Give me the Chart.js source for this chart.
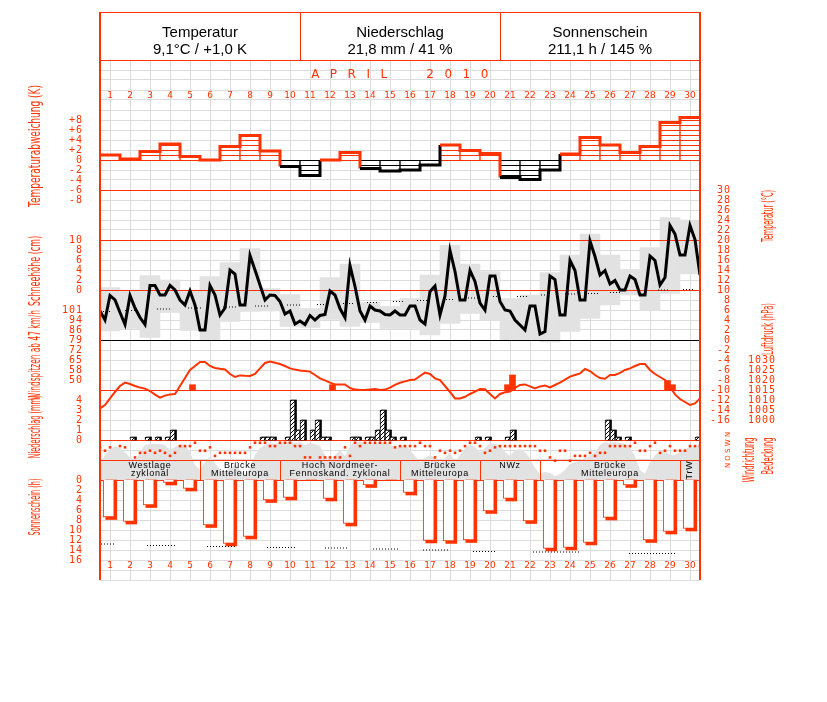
<!DOCTYPE html>
<html>
<head>
<meta charset="utf-8">
<script src="https://cdn.jsdelivr.net/npm/chart.js@4.4.1/dist/chart.umd.min.js"></script>
<style>
  body { margin: 0; background: #fff; }
  canvas { display: block; }
</style>
</head>
<body>
<canvas id="klima" width="827" height="702"></canvas>
<script>
const ROT = '#ff3300';
const GRAU = '#e2e2e2';

// --- Werte (April 2010) ---
const tage = Array.from({ length: 30 }, (_, i) => String(i + 1));

// Tagesabweichung der Temperatur (K)
const abweichung = [1.0, 0.2, 1.7, 3.2, 0.7, 0.0, 2.7, 4.9, 1.8, -1.3, -3.1, 0.0, 1.5, -1.7, -2.2,
  -2.0, -1.0, 3.0, 1.9, 1.3, -3.5, -3.9, -2.0, 1.2, 4.5, 3.0, 1.5, 2.7, 7.5, 8.5];

// Tagesspanne (graue Kästen, °C)
const tempMax = [10.5, 10.0, 12.9, 12.0, 10.0, 12.7, 15.5, 18.3, 10.3, 9.1, 6.3, 12.5, 15.2, 7.5, 6.7,
  8.3, 13.0, 19.0, 15.2, 13.7, 8.3, 9.0, 13.5, 17.0, 21.2, 17.0, 14.1, 18.5, 24.5, 24.0];
const tempMin = [1.8, 2.3, 0.5, 5.5, 1.9, 0.0, 3.7, 5.7, 5.8, 2.7, 2.5, 4.1, 2.7, 3.5, 2.3,
  2.3, 1.0, 3.3, 5.3, 4.0, 0.0, 0.0, -0.4, 1.7, 4.3, 7.0, 9.0, 5.9, 9.3, 13.2];

// Temperaturverlauf, 4 Werte pro Tag (°C)
const temperatur = [
  5.8, 4.0, 8.9, 8.0, 5.5, 3.1, 8.9, 6.4, 4.5, 3.1, 10.9, 10.9, 9.0, 9.0, 10.9,
  10.0, 8.0, 7.0, 9.8, 7.0, 2.0, 2.0, 10.9, 9.0, 5.0, 6.4, 14.0, 13.2, 7.0, 7.0,
  16.9, 14.0, 11.0, 8.0, 9.0, 8.9, 7.7, 5.2, 5.8, 3.2, 3.8, 3.1, 4.9, 4.0, 4.9,
  5.1, 9.8, 9.0, 6.3, 4.5, 14.9, 10.7, 5.8, 4.0, 6.8, 6.0, 5.8, 5.1, 5.0, 5.8,
  5.0, 5.0, 6.8, 6.8, 4.0, 3.2, 9.7, 10.8, 5.0, 8.8, 17.9, 13.7, 8.0, 8.0, 13.9,
  11.7, 7.4, 6.0, 12.8, 12.8, 7.7, 6.0, 5.8, 4.0, 3.0, 2.0, 6.8, 6.8, 1.2, 1.7,
  12.8, 12.1, 5.0, 5.0, 15.9, 13.9, 8.0, 8.0, 19.8, 16.7, 13.0, 13.9, 11.2, 11.9, 10.0,
  10.0, 12.8, 12.1, 9.0, 9.0, 16.8, 15.9, 11.0, 12.5, 22.9, 21.2, 17.0, 17.0, 22.9, 20.1,
  13.0];

// Klimamittel der Temperatur (gepunktete Striche)
const klimaTempVon = [0.15, 1.25, 2.85, 4.4, 6.15, 7.75, 9.35, 10.85, 12.15, 13.35, 14.65, 15.85, 17.15, 18.4, 19.65, 20.85, 22.05, 23.25, 24.4, 25.5, 27.9, 29.15];
const klimaTempBis = [0.6, 2.0, 3.6, 5.15, 6.9, 8.5, 10.0, 11.35, 12.65, 13.9, 15.15, 16.35, 17.65, 19.0, 19.95, 21.4, 22.35, 23.85, 25.0, 26.1, 28.5, 29.7];
const klimaTempWert = [5.7, 5.9, 6.2, 6.4, 6.6, 6.8, 7.0, 7.1, 7.3, 7.5, 7.7, 7.9, 8.1, 8.4, 8.7, 8.7, 9.0, 9.2, 9.3, 9.5, 10.0, 10.1];

// Luftdruck, 4 Werte pro Tag (hPa)
const luftdruck = [
  1005.8, 1007.5, 1010.8, 1014, 1017, 1018.7, 1018, 1017, 1016.2, 1015.7,
  1014.5, 1012.7, 1011.2, 1012.2, 1012.8, 1013, 1017, 1021, 1025, 1027,
  1029, 1029, 1027, 1026, 1025.6, 1025.3, 1023, 1021.5, 1022.3, 1022.1,
  1022, 1023, 1025.8, 1028.5, 1029.2, 1028.6, 1028, 1027, 1025.8, 1025.2,
  1024.7, 1024.5, 1024.2, 1022.5, 1020.8, 1019.8, 1018.7, 1017.8, 1017.8, 1017.8,
  1016, 1015.2, 1015, 1015, 1015.3, 1015.5, 1015, 1015.2, 1016.2, 1017.6,
  1018.6, 1019.3, 1020, 1020.2, 1022, 1023.7, 1023, 1020.8, 1020, 1017,
  1014, 1010.8, 1010.8, 1011.6, 1013, 1014.2, 1015.5, 1015.4, 1013, 1010.8,
  1013, 1013.9, 1014.2, 1016, 1017.5, 1017.8, 1016.8, 1015.8, 1016.8, 1017.2,
  1016.3, 1017.5, 1018.7, 1020.2, 1021.7, 1022.5, 1023.3, 1025.5, 1024.5, 1022.5,
  1021, 1020.6, 1022.5, 1022.5, 1023.6, 1025, 1025.8, 1027, 1028, 1028,
  1025, 1023, 1021.5, 1020, 1016.7, 1012.8, 1010.5, 1009, 1007.5, 1008.3,
  1010.8];

// Windspitzen ab 47 km/h (Viertel-Tag-Index, km/h)
const windSlot = [18, 46, 81, 82, 113, 114];
const windKmh = [47, 47, 47, 54, 50, 47];

// Niederschlag, 4 Werte pro Tag (mm)
const niederschlag = [
  0, 0, 0, 0,   0, 0, 0.3, 0,   0, 0.3, 0, 0.3,   0, 0.3, 1.0, 0,   0, 0, 0, 0,
  0, 0, 0, 0,   0, 0, 0, 0,   0, 0, 0, 0,   0.3, 0.3, 0.3, 0,   0, 0.3, 4.0, 1.0,
  2.0, 0, 1.0, 2.0,   0.3, 0.3, 0, 0,   0, 0, 0.3, 0.3,   0, 0.3, 0.3, 1.0,   3.0, 1.0, 0.3, 0,
  0.3, 0, 0, 0,   0, 0, 0, 0,   0, 0, 0, 0,   0, 0, 0, 0.3,   0, 0.3, 0, 0,
  0, 0.3, 1.0, 0,   0, 0, 0, 0,   0, 0, 0, 0,   0, 0, 0, 0,   0, 0, 0, 0,
  0, 2.0, 1.0, 0.3,   0, 0.3, 0, 0,   0, 0, 0, 0,   0, 0, 0, 0,   0, 0, 0, 0.3];

// Windrichtung, 4 Werte pro Tag (Grad)
const windrichtung = [
  120, 175, 120, null, 100, 120, null, 285, 210, 210, 175, 210, 175, 210, 260,
  210, 100, 100, 100, 45, 175, 175, 120, 260, 210, 210, 210, 210, 210, 210,
  120, 45, 45, 45, 100, 100, 45, 45, 45, 100, 100, 285, 285, null, 285,
  285, 285, 285, 285, 120, 260, 45, 100, 45, 45, 45, 45, 45, 45, 120,
  100, 100, 100, 100, 45, 100, 100, 285, 175, 210, 175, 210, 175, 100, 45,
  45, 100, 210, 175, 120, 100, 100, 100, 100, 100, 100, 100, 100, 175, 175,
  285, 340, 175, 175, 340, 260, 260, 260, 210, 260, 210, 210, 100, 100, 100,
  100, 100, 45, 175, 175, 100, 45, 210, 175, 100, 175, 175, 175, 100, 100,
  100];

// Bedeckung, 4 Werte pro Tag (Achtel)
const bedeckung = [
  3, 5, 6, 6.8, 6.4, 5.6, 4.4, 3.6, 5.6, 7, 7.2, 7.2, 7.2, 7, 6,
  6.6, 7.2, 7, 5.6, 3, 2, 3.6, 4.8, 3.4, 2, 1.6, 2.4, 3, 2, 1,
  2.4, 5, 6.4, 7, 7.4, 7.2, 7.4, 7.6, 7.6, 7.4, 7.6, 7, 7.4, 7.2, 6.8,
  5, 3.6, 5, 6, 4.8, 6.8, 7.6, 7.6, 7.6, 7.4, 7.4, 7.6, 7.4, 7.2, 6.4,
  6.6, 7.2, 6, 4.8, 3.6, 4.4, 5, 4.4, 3.6, 4.4, 5.6, 3.6, 5, 6.4, 7,
  6.6, 5.6, 6.4, 7.4, 7.2, 7, 5.6, 4.8, 6, 6.2, 5.6, 4.4, 2.4, 1.2, 1.6,
  1.4, 0.8, 1.2, 2, 3.2, 3.6, 4, 4.4, 4.8, 5.6, 7, 7.6, 7.4, 7.6, 7.4,
  7.2, 6.4, 4.8, 2, 1.2, 3.6, 5, 5.6, 6, 5, 5, 5.6, 6.2, 6.6, 6.8,
  7.2];

// Sonnenscheindauer (h)
const sonne = [7.4, 8.3, 5.0, 0.5, 1.7, 9.0, 12.7, 11.3, 4.0, 3.5, 0, 3.7, 8.7, 1.0, 0,
  2.5, 12.1, 12.2, 12.0, 6.2, 3.7, 8.2, 13.7, 13.5, 12.5, 7.5, 1.0, 12.0, 10.3, 9.7];
const sonneKlimaVon = [0.05, 2.35, 5.35, 8.35, 11.25, 13.65, 16.15, 18.65, 21.65, 26.45];
const sonneKlimaBis = [0.8, 3.8, 6.8, 9.8, 12.4, 14.9, 17.4, 19.8, 24.0, 28.8];
const sonneKlimaWert = [12.8, 13.1, 13.3, 13.5, 13.6, 13.8, 14.0, 14.3, 14.4, 14.7];

// Großwetterlagen
const lageVon = [0, 5, 9, 15, 19, 22, 29];
const lageBis = [5, 9, 15, 19, 22, 29, 30];
const lageText = [['Westlage', 'zyklonal'], ['Brücke', 'Mitteleuropa'], ['Hoch Nordmeer-', 'Fennoskand. zyklonal'],
  ['Brücke', 'Mitteleuropa'], ['NWz', ''], ['Brücke', 'Mitteleuropa'], ['TrW', '']];

// Kopfzeile
const kopfTitel = ['Temperatur', 'Niederschlag', 'Sonnenschein'];
const kopfWert = ['9,1°C / +1,0 K', '21,8 mm / 41 %', '211,1 h / 145 %'];

// Achsenbeschriftungen
const abwTicks = [8, 6, 4, 2, 0, -2, -4, -6, -8];
const abwLabels = ['+8', '+6', '+4', '+2', '0', '-2', '-4', '-6', '-8'];
const schneeTicks = [10, 8, 6, 4, 2, 0];
const windTicks = [100.8, 93.6, 86.4, 79.2, 72, 64.8, 57.6, 50.4];
const windLabels = ['101', '94', '86', '79', '72', '65', '58', '50'];
const nTicks = [4, 3, 2, 1, 0];
const sonneTicks = [0, 2, 4, 6, 8, 10, 12, 14, 16];
const tempTicks = [30, 28, 26, 24, 22, 20, 18, 16, 14, 12, 10, 8, 6, 4, 2, 0, -2, -4, -6, -8, -10, -12, -14, -16];
const druckTicks = [1030, 1025, 1020, 1015, 1010, 1005, 1000];

// --- Aufbau ---
const canvas = document.getElementById('klima');
const ctx = canvas.getContext('2d');

// Achse so legen, dass Wert v0 auf Pixelzeile y0 liegt (Zeichenfläche 60..580)
function achse(v0, y0, proPx, umgekehrt) {
  if (umgekehrt) return { min: v0 - (y0 - 60) * proPx, max: v0 + (580 - y0) * proPx, reverse: true, display: false };
  return { min: v0 - (580 - y0) * proPx, max: v0 + (y0 - 60) * proPx, display: false };
}

function muster(farbe, art) {
  const c = document.createElement('canvas');
  const n = art === 'quer' ? 5 : 4;
  c.width = n; c.height = n;
  const g = c.getContext('2d');
  g.fillStyle = '#fff';
  g.fillRect(0, 0, n, n);
  g.fillStyle = farbe;
  if (art === 'quer') g.fillRect(0, 0, n, 1);
  else for (let i = 0; i < n; i++) g.fillRect(i, n - 1 - i, 1, 1);
  return ctx.createPattern(c, 'repeat');
}
const querRot = muster(ROT, 'quer');
const querSchwarz = muster('#000', 'quer');
const schraeg = muster('#000', 'schraeg');

const viertel = (arr) => arr.map((v, k) => ({ x: k / 4, y: v }));
function striche(von, bis, wert) {
  const pts = [];
  wert.forEach((w, i) => { pts.push({ x: von[i], y: w }, { x: bis[i], y: w }, { x: bis[i], y: null }); });
  return pts;
}

const nDaten = [], nSchatten = [];
niederschlag.forEach((v, k) => {
  if (v > 0) {
    nDaten.push({ x: (k + 0.5) / 4, y: [0, v] });
    nSchatten.push({ x: (k + 0.5) / 4 + 0.075, y: [0, v] });
  }
});

const zeichnen = {
  id: 'zeichnen',
  beforeDatasetsDraw(chart) {
    const { ctx, scales } = chart;
    const y0 = scales.yBed.getPixelForValue(4), y1 = scales.yBed.getPixelForValue(0);
    ctx.save();
    ctx.fillStyle = '#fff';
    ctx.fillRect(100, y0, 600, y1 - y0);
    ctx.restore();
  },
  afterDatasetDraw(chart, args) {
    if (chart.data.datasets[args.index].label !== 'Bedeckung') return;
    const { ctx, scales } = chart;
    const linien = [['yAbw', 0, ROT], ['yT', 30, ROT], ['yT', 20, ROT], ['yT', 10, ROT], ['yT', 0, '#000'],
      ['yP', 1015, ROT], ['yN', 0, ROT], ['yBed', 4, ROT], ['yBed', 0, ROT]];
    ctx.save();
    ctx.lineWidth = 1;
    linien.forEach(([a, v, f]) => {
      const y = Math.round(scales[a].getPixelForValue(v)) + 0.5;
      ctx.strokeStyle = f;
      ctx.beginPath(); ctx.moveTo(100, y); ctx.lineTo(700, y); ctx.stroke();
    });
    ctx.restore();
  },
  afterDraw(chart) {
    const { ctx, scales } = chart;
    const x = scales.x;
    ctx.save();

    // Kopf
    ctx.fillStyle = '#fff';
    ctx.fillRect(100, 12, 600, 48);
    ctx.strokeStyle = ROT;
    ctx.lineWidth = 1;
    ctx.strokeRect(100.5, 12.5, 600, 48);
    [300, 500].forEach(px => { ctx.beginPath(); ctx.moveTo(px + 0.5, 12); ctx.lineTo(px + 0.5, 60); ctx.stroke(); });
    ctx.fillStyle = '#000';
    ctx.textAlign = 'center';
    ctx.textBaseline = 'alphabetic';
    ctx.font = '15px "Liberation Sans", Arial, sans-serif';
    kopfTitel.forEach((t, i) => {
      ctx.fillText(t, 200 + i * 200, 37);
      ctx.fillText(kopfWert[i], 200 + i * 200, 54);
    });

    // Rahmen
    ctx.strokeStyle = ROT;
    ctx.lineWidth = 2;
    [100, 700].forEach(px => { ctx.beginPath(); ctx.moveTo(px, 12); ctx.lineTo(px, 580); ctx.stroke(); });

    // Monat
    ctx.fillStyle = ROT;
    ctx.textBaseline = 'middle';
    ctx.font = '12px "DejaVu Sans", sans-serif';
    ctx.letterSpacing = '10.5px';
    ctx.fillText('APRIL  2010', 405, 75);
    ctx.letterSpacing = '0px';

    // Tageszahlen
    ctx.font = '9px "DejaVu Sans", sans-serif';
    tage.forEach((t, i) => {
      const px = x.getPixelForValue(i + 0.5);
      ctx.fillText(t, px, 96);
      ctx.fillText(t, px, 566);
    });

    // linke Skalen
    ctx.font = '10px "DejaVu Sans Mono", monospace';
    ctx.textAlign = 'right';
    ctx.letterSpacing = '1px';
    abwTicks.forEach((v, i) => ctx.fillText(abwLabels[i], 83, scales.yAbw.getPixelForValue(v)));
    schneeTicks.forEach(v => ctx.fillText(String(v), 83, scales.ySchnee.getPixelForValue(v)));
    windTicks.forEach((v, i) => ctx.fillText(windLabels[i], 83, scales.yWind.getPixelForValue(v)));
    nTicks.forEach(v => ctx.fillText(String(v), 83, scales.yN.getPixelForValue(v)));
    sonneTicks.forEach(v => ctx.fillText(String(v), 83, scales.ySonne.getPixelForValue(v)));
    // rechte Skalen
    tempTicks.forEach(v => ctx.fillText(String(v), 731, scales.yT.getPixelForValue(v)));
    druckTicks.forEach(v => ctx.fillText(String(v), 776, scales.yP.getPixelForValue(v)));
    ctx.letterSpacing = '0px';

    // Achsentitel (gedreht, auf Länge gestaucht)
    const titel = (t, px, py, laenge) => {
      ctx.save(); ctx.translate(px, py); ctx.rotate(-Math.PI / 2);
      if (laenge) { const w = ctx.measureText(t).width; ctx.scale(laenge / w, 1); }
      ctx.textAlign = 'center'; ctx.textBaseline = 'middle';
      ctx.fillText(t, 0, 0); ctx.restore();
    };
    ctx.font = '16px "DejaVu Sans", sans-serif';
    titel('Temperaturabweichung (K)', 36, 146, 122);
    titel('Schneehöhe (cm)', 36, 271, 70);
    titel('Windspitzen ab 47 km/h', 36, 355, 90);
    titel('Niederschlag (mm)', 36, 427, 63);
    titel('Sonnenschein (h)', 36, 507, 57);
    titel('Temperatur (°C)', 769, 216, 52);
    titel('Luftdruck (hPa)', 769, 329, 52);
    titel('Windrichtung', 750, 460, 45);
    titel('Bedeckung', 769, 456, 37);
    ctx.font = '7px "DejaVu Sans", sans-serif';
    titel('N O S W N', 728, 450);

    // Großwetterlagen
    const yo = scales.yBed.getPixelForValue(4), yu = scales.yBed.getPixelForValue(0);
    ctx.strokeStyle = ROT;
    ctx.lineWidth = 1;
    ctx.fillStyle = '#000';
    ctx.font = '9px "Liberation Sans", Arial, sans-serif';
    ctx.letterSpacing = '0.7px';
    lageVon.forEach((von, i) => {
      const x0 = x.getPixelForValue(von), x1 = x.getPixelForValue(lageBis[i]);
      if (i > 0) { ctx.beginPath(); ctx.moveTo(Math.round(x0) + 0.5, yo); ctx.lineTo(Math.round(x0) + 0.5, yu); ctx.stroke(); }
      const mx = (x0 + x1) / 2;
      if (x1 - x0 < 30) { titel(lageText[i][0], mx, (yo + yu) / 2); return; }
      ctx.textAlign = 'center';
      ctx.fillText(lageText[i][0], mx, yo + 6);
      if (lageText[i][1]) ctx.fillText(lageText[i][1], mx, yo + 14);
    });
    ctx.restore();
  }
};

new Chart(ctx, {
  type: 'line',
  data: {
    datasets: [
      { label: 'Spanne', type: 'bar', yAxisID: 'yT', order: 100, grouped: false, barThickness: 20,
        backgroundColor: GRAU, borderWidth: 0,
        data: tempMin.map((v, i) => ({ x: i + 0.5, y: [v, tempMax[i]] })) },
      { label: 'Bedeckung', yAxisID: 'yBed', order: 99, data: viertel(bedeckung),
        fill: { value: 0 }, backgroundColor: GRAU, borderWidth: 0, pointRadius: 0 },
      { label: 'Abweichung', type: 'bar', yAxisID: 'yAbw', order: 50, grouped: false, barThickness: 20,
        data: abweichung.map((v, i) => ({ x: i + 0.5, y: v })),
        backgroundColor: abweichung.map(v => v < 0 ? querSchwarz : querRot),
        borderColor: abweichung.map(v => v < 0 ? '#000' : ROT), borderWidth: 1 },
      { label: 'Abweichung Stufe', yAxisID: 'yAbw', order: 40, stepped: 'before', borderWidth: 3, pointRadius: 0,
        data: [...abweichung.map((v, i) => ({ x: i, y: v })), { x: 30, y: abweichung[29] }],
        borderColor: ROT,
        segment: { borderColor: c => c.p0.parsed.y < 0 ? '#000' : ROT } },
      { label: 'Klimamittel', yAxisID: 'yT', order: 30, data: striche(klimaTempVon, klimaTempBis, klimaTempWert),
        borderColor: '#000', borderWidth: 1, borderDash: [1, 2], pointRadius: 0 },
      { label: 'Temperatur', yAxisID: 'yT', order: 20, data: viertel(temperatur),
        borderColor: '#000', borderWidth: 3, pointRadius: 0 },
      { label: 'Windspitzen', type: 'bar', yAxisID: 'yWind', order: 25, grouped: false, barThickness: 6,
        data: windSlot.map((k, i) => ({ x: (k + 0.5) / 4, y: [43.2, windKmh[i]] })),
        backgroundColor: ROT, borderWidth: 0 },
      { label: 'Luftdruck', yAxisID: 'yP', order: 22, data: viertel(luftdruck),
        borderColor: ROT, borderWidth: 2, pointRadius: 0 },
      { label: 'Niederschlag Schatten', type: 'bar', yAxisID: 'yN', order: 19, grouped: false, barThickness: 5,
        data: nSchatten, backgroundColor: '#000', borderWidth: 0 },
      { label: 'Niederschlag', type: 'bar', yAxisID: 'yN', order: 18, grouped: false, barThickness: 5,
        data: nDaten, backgroundColor: schraeg, borderColor: '#000', borderWidth: 1 },
      { label: 'Windrichtung', yAxisID: 'yRicht', order: 17, data: viertel(windrichtung), showLine: false,
        pointStyle: 'rect', pointRadius: 1.8, pointBackgroundColor: ROT, pointBorderWidth: 0 },
      { label: 'Sonne Schatten', type: 'bar', yAxisID: 'ySonne', order: 16, grouped: false, barThickness: 11,
        data: sonne.map((v, i) => ({ x: i + 0.5 + 0.065, y: [0, v > 0 ? v + 0.5 : 0] })),
        backgroundColor: ROT, borderWidth: 0 },
      { label: 'Sonne', type: 'bar', yAxisID: 'ySonne', order: 15, grouped: false, barThickness: 11,
        data: sonne.map((v, i) => ({ x: i + 0.5 - 0.065, y: [0, v] })),
        backgroundColor: '#fff', borderColor: ROT, borderWidth: 1 },
      { label: 'Sonne Klima', yAxisID: 'ySonne', order: 14, data: striche(sonneKlimaVon, sonneKlimaBis, sonneKlimaWert),
        borderColor: '#000', borderWidth: 1, borderDash: [1, 2], pointRadius: 0 }
    ]
  },
  options: {
    responsive: false,
    animation: false,
    events: [],
    layout: { padding: { left: 100, right: 127, top: 60, bottom: 122 } },
    plugins: { legend: { display: false }, tooltip: { enabled: false } },
    scales: {
      x: { type: 'linear', min: 0, max: 30, offset: false,
        ticks: { display: false, stepSize: 1, maxTicksLimit: 1000 },
        grid: { color: '#dcdcdc', drawTicks: false }, border: { display: false },
        afterFit: s => { s.height = 0; } },
      yGitter: { min: 0, max: 52, position: 'left',
        ticks: { display: false, stepSize: 1, maxTicksLimit: 1000 },
        grid: { color: '#dcdcdc', drawTicks: false }, border: { display: false },
        afterFit: s => { s.width = 0; } },
      yAbw: achse(0, 160, 0.2),
      yT: achse(0, 340, 0.2),
      ySchnee: achse(0, 290, 0.2),
      yWind: achse(43.2, 390, 0.72),
      yP: achse(1015, 390, 0.5),
      yN: achse(0, 440, 0.1),
      yRicht: achse(0, 440, 360 / 22, true),
      yBed: achse(0, 480, 0.2),
      ySonne: achse(0, 480, 0.2, true)
    }
  },
  plugins: [zeichnen]
});
</script>
</body>
</html>
